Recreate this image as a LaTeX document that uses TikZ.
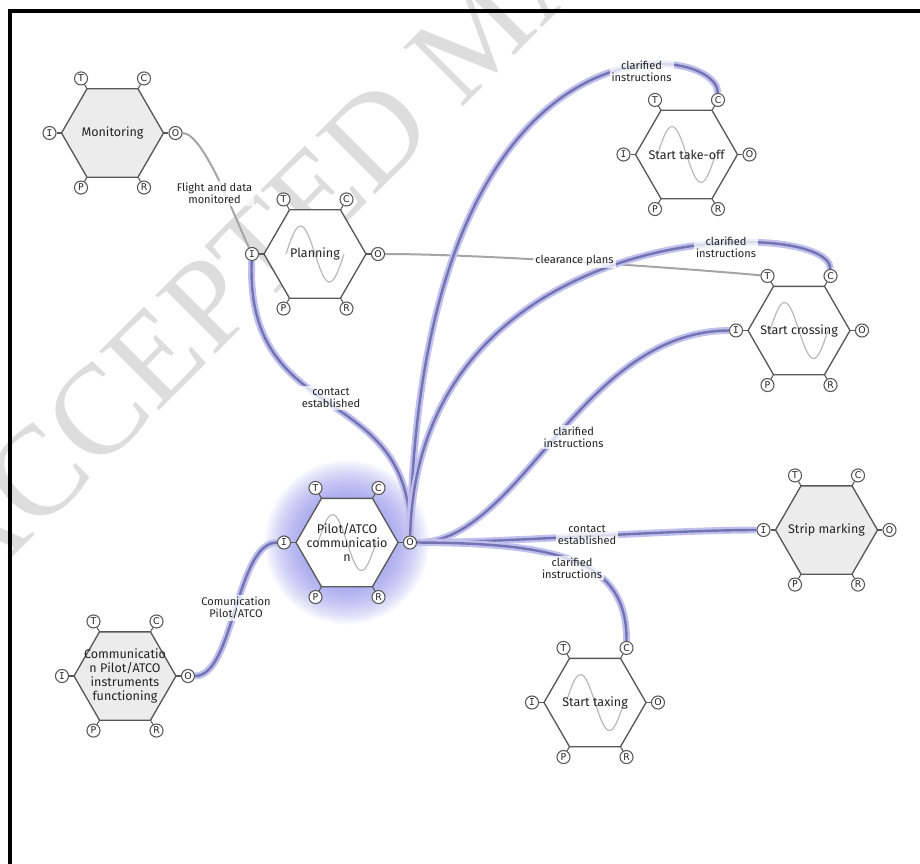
\documentclass[tikz,border=0pt]{standalone}
\usepackage{fontspec}
\setmainfont{Fira Sans}
\newfontfamily\portfont{DejaVu Sans}
\newfontfamily\portmono{DejaVu Sans Mono}
\newfontfamily\stampfont{Liberation Serif}
\usetikzlibrary{shapes.geometric,calc}
\definecolor{hexLine}{RGB}{88,88,88}
\definecolor{hexGrey}{RGB}{236,236,236}
\definecolor{waveGrey}{RGB}{185,185,185}
\definecolor{plainLink}{RGB}{165,165,165}
\definecolor{linkHalo}{RGB}{192,192,238}
\definecolor{linkCore}{RGB}{115,115,178}
\definecolor{glowBlue}{RGB}{130,130,232}
\definecolor{stampGrey}{RGB}{221,221,221}
\definecolor{txtDark}{RGB}{35,35,35}
\pgfdeclarelayer{background}
\pgfdeclarelayer{links}
\pgfsetlayers{background,links,main}
\tikzset{
  hexbox/.style={
    regular polygon, regular polygon sides=6, minimum size=76.5pt,
    inner sep=0pt, outer sep=0pt, draw=hexLine, line width=1pt, fill=white},
  greyhex/.style={hexbox, fill=hexGrey},
  hextext/.style={align=center, text=txtDark, inner sep=0pt,
    font=\fontsize{9.4}{10.5}\selectfont},
  portdot/.style={circle, draw=hexLine, line width=0.8pt, fill=white,
    minimum size=9.8pt, inner sep=0pt, text=txtDark,
    font=\portfont\fontsize{7}{7}\selectfont},
  stub/.style={draw=hexLine, line width=0.8pt},
  wave/.style={draw=waveGrey, line width=0.9pt},
  glowring/.style={fill=glowBlue, fill opacity=0.055},
  plainlink/.style={draw=plainLink, line width=1.5pt},
  hilink/.style={draw=linkHalo, double=linkCore, line width=1.7pt,
    double distance=1.8pt},
  linklabel/.style={fill=white, fill opacity=0.75, text opacity=1,
    text=txtDark, align=center, inner sep=1.5pt,
    font=\fontsize{8.3}{9}\selectfont},
  stamp/.style={text=stampGrey, rotate=45, inner sep=0pt,
    font=\stampfont\fontsize{96}{96}\selectfont}
}

\begin{document}
\begin{tikzpicture}[x=0.75pt, y=0.75pt]
    \useasboundingbox (0,0) rectangle (920,-863);
    \clip (0,0) rectangle (920,-863);

    % functions with a variability wave
    \foreach \nm/\cx/\cy/\txt in {plan/315/-254/Planning,
        take/686.5/-154.5/Start take-off, cross/799/-330.5/Start crossing,
        pilot/347/-542.5/{Pilot/ATCO\\communicatio\\n},
        taxi/595/-702.5/Start taxing}
      {\node[hexbox] (\nm) at (\cx,\cy) {};
       \draw[wave] ($(\nm)+(-29,0)$) sin ++(14.5,28) cos ++(14.5,-28)
           sin ++(14.5,-28) cos ++(14.5,28);
       \node[hextext] (\nm-txt) at (\nm) {\txt};}

    % background functions
    \foreach \nm/\cx/\cy/\txt in {mon/112.5/-133/Monitoring,
        strip/826.5/-530/Strip marking,
        instr/125/-676/{Communicatio\\n Pilot/ATCO\\instruments\\functioning}}
      {\node[greyhex] (\nm) at (\cx,\cy) {};
       \node[hextext] (\nm-txt) at (\nm) {\txt};}

    \foreach \nm in {mon,plan,take,cross,strip,pilot,instr,taxi}
      \foreach \ang/\lab/\glyph in {120/T/T,60/C/C,180/I/{\portmono I},
          0/O/O,240/P/P,300/R/R}
        {\node[portdot] (\nm-\lab) at ($(\nm)+(\ang:63)$) {\glyph};
         \draw[stub] (\nm.\ang) -- (\nm-\lab);}

    \begin{pgfonlayer}{background}
      \node[stamp] (mark) at (478,-33) {ACCEPTED MANUSCRIPT};
      \foreach \r in {44,46,...,82}
        \fill[glowring] (pilot) circle (\r);
    \end{pgfonlayer}

    \begin{pgfonlayer}{links}
      \draw[plainlink] (mon-O) .. controls +(28,0) and +(-18,38) .. (plan-I);
      \draw[plainlink] (plan-O) .. controls +(100,0) and +(-100,9) .. (cross-T);
      \draw[hilink] (pilot-O) .. controls (412,-380) and (245,-430) .. (plan-I);
      \draw[hilink] (pilot-O) .. controls (420,0) and (717,-40) .. (take-C);
      \draw[hilink] (pilot-O) .. controls (418,-215) and (830,-215) .. (cross-C);
      \draw[hilink] (pilot-O) .. controls (520,-543) and (580,-331) .. (cross-I);
      \draw[hilink] (pilot-O) .. controls +(100,0) and +(-100,0) .. (strip-I);
      \draw[hilink] (pilot-O) .. controls (560,-543) and (627,-560) .. (taxi-C);
      \draw[hilink] (instr-O) .. controls +(46,0) and +(-48,0) .. (pilot-I);
    \end{pgfonlayer}

    \node[linklabel] (lbl-flight) at (214.5,-193.5) {Flight and data\\monitored};
    \node[linklabel] (lbl-take) at (641.5,-71) {clarified\\instructions};
    \node[linklabel] (lbl-plans) at (574.5,-261) {clearance plans};
    \node[linklabel] (lbl-crossc) at (726,-247) {clarified\\instructions};
    \node[linklabel] (lbl-contact) at (331,-398) {contact\\established};
    \node[linklabel] (lbl-crossi) at (573.5,-437) {clarified\\instructions};
    \node[linklabel] (lbl-strip) at (587,-535) {contact\\established};
    \node[linklabel] (lbl-taxi) at (572,-568) {clarified\\instructions};
    \node[linklabel] (lbl-comm) at (236,-608) {Comunication\\Pilot/ATCO};

    \draw[line width=3pt] (9.5,-880) |- (940,-11.3);
\end{tikzpicture}
\end{document}
